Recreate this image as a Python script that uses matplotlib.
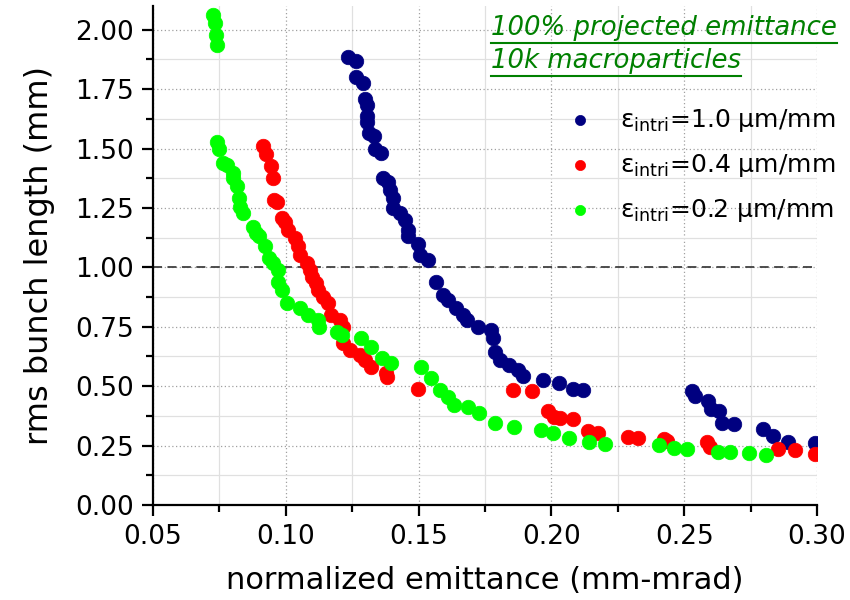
import numpy as np
import matplotlib
matplotlib.use("Agg")
import matplotlib.pyplot as plt
from matplotlib.ticker import MultipleLocator, FormatStrFormatter
from matplotlib.lines import Line2D

# emittance (mm-mrad) / rms bunch length (mm)
blue_x = [0.1234, 0.1263, 0.1266, 0.1291, 0.1297, 0.1306, 0.1307, 0.1307, 0.1313, 0.1331,
          0.1335, 0.1360, 0.1366, 0.1385, 0.1391, 0.1403, 0.1403, 0.1429, 0.1447, 0.1460,
          0.1460, 0.1497, 0.1504, 0.1535, 0.1566, 0.1591, 0.1610, 0.1642, 0.1667, 0.1682,
          0.1723, 0.1773, 0.1779, 0.1786, 0.1805, 0.1842, 0.1873, 0.1892, 0.1967, 0.2027,
          0.2080, 0.2120, 0.2529, 0.2541, 0.2588, 0.2600, 0.2632, 0.2644, 0.2686, 0.2795,
          0.2835, 0.2892, 0.2993]
blue_y = [1.887, 1.869, 1.800, 1.778, 1.708, 1.684, 1.635, 1.610, 1.565, 1.551,
          1.500, 1.481, 1.376, 1.361, 1.326, 1.291, 1.249, 1.228, 1.200, 1.158,
          1.130, 1.100, 1.053, 1.032, 0.937, 0.884, 0.863, 0.828, 0.800, 0.779,
          0.751, 0.737, 0.702, 0.645, 0.611, 0.589, 0.568, 0.543, 0.527, 0.515,
          0.487, 0.484, 0.480, 0.460, 0.438, 0.403, 0.397, 0.347, 0.340, 0.318,
          0.291, 0.267, 0.260]

red_x = [0.0915, 0.0927, 0.0946, 0.0950, 0.0955, 0.0965, 0.0984, 0.0996, 0.1009, 0.1034,
         0.1046, 0.1053, 0.1078, 0.1090, 0.1097, 0.1115, 0.1122, 0.1140, 0.1159, 0.1172,
         0.1203, 0.1215, 0.1215, 0.1241, 0.1278, 0.1297, 0.1322, 0.1378, 0.1380, 0.1497,
         0.1857, 0.1927, 0.1988, 0.2008, 0.2033, 0.2083, 0.2137, 0.2177, 0.2287, 0.2325,
         0.2425, 0.2437, 0.2584, 0.2597, 0.2855, 0.2917, 0.2993]
red_y = [1.509, 1.478, 1.425, 1.376, 1.284, 1.277, 1.207, 1.193, 1.158, 1.123,
         1.088, 1.053, 1.018, 0.989, 0.961, 0.933, 0.905, 0.877, 0.849, 0.800,
         0.779, 0.751, 0.681, 0.653, 0.632, 0.611, 0.582, 0.554, 0.540, 0.487,
         0.484, 0.480, 0.395, 0.369, 0.368, 0.361, 0.313, 0.304, 0.288, 0.281,
         0.277, 0.271, 0.267, 0.245, 0.236, 0.232, 0.215]

green_x = [0.0727, 0.0733, 0.0737, 0.0742, 0.0742, 0.0749, 0.0762, 0.0777, 0.0800, 0.0802,
           0.0817, 0.0824, 0.0829, 0.0837, 0.0877, 0.0887, 0.0900, 0.0921, 0.0937, 0.0950,
           0.0971, 0.0971, 0.0984, 0.1006, 0.1053, 0.1084, 0.1121, 0.1125, 0.1193, 0.1213,
           0.1284, 0.1322, 0.1363, 0.1397, 0.1510, 0.1548, 0.1579, 0.1610, 0.1635, 0.1685,
           0.1729, 0.1786, 0.1861, 0.1961, 0.2005, 0.2068, 0.2143, 0.2203, 0.2406, 0.2462,
           0.2510, 0.2629, 0.2672, 0.2744, 0.2807]
green_y = [2.063, 2.028, 1.979, 1.937, 1.526, 1.499, 1.441, 1.432, 1.396, 1.376,
           1.343, 1.291, 1.253, 1.228, 1.168, 1.144, 1.130, 1.091, 1.039, 1.017,
           0.987, 0.940, 0.905, 0.852, 0.828, 0.800, 0.779, 0.751, 0.730, 0.716,
           0.702, 0.664, 0.618, 0.599, 0.580, 0.533, 0.484, 0.456, 0.421, 0.414,
           0.386, 0.344, 0.330, 0.316, 0.302, 0.281, 0.267, 0.255, 0.253, 0.239,
           0.234, 0.224, 0.224, 0.220, 0.211]

labels = [r"$\mathregular{ε_{intri}}$=1.0 μm/mm",
          r"$\mathregular{ε_{intri}}$=0.4 μm/mm",
          r"$\mathregular{ε_{intri}}$=0.2 μm/mm"]
colors = ["#000080", "#ff0000", "#00ff00"]
ref_level = 1.0

plt.rcParams["font.family"] = ["DejaVu Sans"]

fig = plt.figure(figsize=(8.5, 6), dpi=100)
ax = fig.add_axes([153 / 850, 1 - 505 / 600, 664 / 850, 499 / 600])

for xs, ys, c, lab in zip([blue_x, red_x, green_x], [blue_y, red_y, green_y], colors, labels):
    ax.scatter(xs, ys, s=110, color=c, edgecolors=c, linewidths=0.5, label=lab, zorder=3)

ax.axhline(ref_level, color="#404040", lw=1.3, ls=(0, (5, 3)), zorder=2)

ax.set_xlim(0.05, 0.30)
ax.set_ylim(0.0, 2.10)
ax.xaxis.set_major_locator(MultipleLocator(0.05))
ax.xaxis.set_minor_locator(MultipleLocator(0.025))
ax.yaxis.set_major_locator(MultipleLocator(0.25))
ax.yaxis.set_minor_locator(MultipleLocator(0.125))
ax.xaxis.set_major_formatter(FormatStrFormatter("%.2f"))
ax.yaxis.set_major_formatter(FormatStrFormatter("%.2f"))

ax.grid(which="major", color="#a0a0a0", ls=(0, (1, 2)), lw=0.9, zorder=0)
ax.grid(which="minor", color="#e0e0e0", ls="-", lw=0.9, zorder=0)
ax.set_axisbelow(True)

for s in ["top", "right"]:
    ax.spines[s].set_visible(False)
for s in ["left", "bottom"]:
    ax.spines[s].set_linewidth(1.6)
ax.tick_params(which="major", direction="out", length=8, width=1.6, labelsize=19, pad=6)
ax.tick_params(which="minor", direction="out", length=5, width=1.6)

ax.set_xlabel("normalized emittance (mm-mrad)", fontsize=22, labelpad=11)
ax.set_ylabel("rms bunch length (mm)", fontsize=23, labelpad=14)

leg = ax.legend(loc="upper left", bbox_to_anchor=(0.598, 0.818), frameon=False,
                fontsize=18, markerscale=0.7, handlelength=1.6, handletextpad=0.8,
                labelspacing=0.72, borderaxespad=0)

t1 = fig.text(491 / 850, 1 - 35 / 600, "100% projected emittance", color="#008000",
              style="italic", fontsize=18.7, va="baseline")
t2 = fig.text(491 / 850, 1 - 68 / 600, "10k macroparticles", color="#008000",
              style="italic", fontsize=18.7, va="baseline")

# underline the two annotation lines
fig.canvas.draw()
r = fig.canvas.get_renderer()
for t in (t1, t2):
    bb = t.get_window_extent(r)
    x0, x1 = bb.x0 / fig.bbox.width, bb.x1 / fig.bbox.width
    yb = (bb.y0 - 2) / fig.bbox.height
    fig.add_artist(Line2D([x0, x1], [yb, yb], color="#008000", lw=1.5))

fig.savefig("out.png", dpi=100)
